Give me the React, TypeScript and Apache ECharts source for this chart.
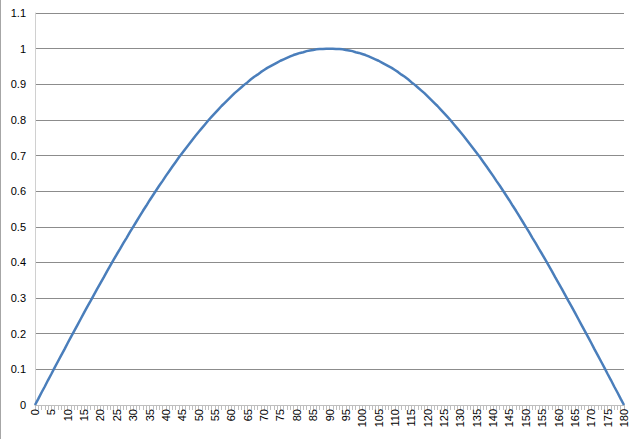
import React, { useEffect, useRef } from "react";
import * as echarts from "echarts";

const degrees: string[] = Array.from({ length: 181 }, (_, i) => String(i));

// degrees 0..90
const risingValues: number[] = [
  0.0, 0.017, 0.035, 0.052, 0.07, 0.087, 0.105, 0.122, 0.139, 0.156,
  0.174, 0.191, 0.208, 0.225, 0.242, 0.259, 0.276, 0.292, 0.309, 0.326,
  0.342, 0.358, 0.375, 0.391, 0.407, 0.423, 0.438, 0.454, 0.469, 0.485,
  0.5, 0.515, 0.53, 0.545, 0.559, 0.574, 0.588, 0.602, 0.616, 0.629,
  0.643, 0.656, 0.669, 0.682, 0.695, 0.707, 0.719, 0.731, 0.743, 0.755,
  0.766, 0.777, 0.788, 0.799, 0.809, 0.819, 0.829, 0.839, 0.848, 0.857,
  0.866, 0.875, 0.883, 0.891, 0.899, 0.906, 0.914, 0.921, 0.927, 0.934,
  0.94, 0.946, 0.951, 0.956, 0.961, 0.966, 0.97, 0.974, 0.978, 0.982,
  0.985, 0.988, 0.99, 0.993, 0.995, 0.996, 0.998, 0.999, 0.999, 1.0,
  1.0,
];
// degrees 91..180
const fallingValues: number[] = [
  1.0, 0.999, 0.999, 0.998, 0.996, 0.995, 0.993, 0.99, 0.988, 0.985,
  0.982, 0.978, 0.974, 0.97, 0.966, 0.961, 0.956, 0.951, 0.946, 0.94,
  0.934, 0.927, 0.921, 0.914, 0.906, 0.899, 0.891, 0.883, 0.875, 0.866,
  0.857, 0.848, 0.839, 0.829, 0.819, 0.809, 0.799, 0.788, 0.777, 0.766,
  0.755, 0.743, 0.731, 0.719, 0.707, 0.695, 0.682, 0.669, 0.656, 0.643,
  0.629, 0.616, 0.602, 0.588, 0.574, 0.559, 0.545, 0.53, 0.515, 0.5,
  0.485, 0.469, 0.454, 0.438, 0.423, 0.407, 0.391, 0.375, 0.358, 0.342,
  0.326, 0.309, 0.292, 0.276, 0.259, 0.242, 0.225, 0.208, 0.191, 0.174,
  0.156, 0.139, 0.122, 0.105, 0.087, 0.07, 0.052, 0.035, 0.017, 0.0,
];
const values: number[] = [...risingValues, ...fallingValues];

export default function App() {
  const ref = useRef<HTMLDivElement>(null);
  useEffect(() => {
    document.body.style.margin = "0";
    const chart = echarts.init(ref.current!, null, { renderer: "svg" });
    chart.setOption({
      animation: false,
      backgroundColor: "#ffffff",
      textStyle: { fontFamily: "Liberation Sans" },
      grid: { left: 35, right: 16, top: 13, bottom: 34, containLabel: false },
      graphic: [
        {
          type: "rect",
          shape: { x: 0, y: 0, width: 1, height: 439 },
          style: { fill: "#a6a6a6" },
        },
      ],
      xAxis: {
        type: "category",
        data: degrees,
        boundaryGap: false,
        axisLine: { lineStyle: { color: "#bfbfbf", width: 1 } },
        axisTick: { show: true, interval: 0, length: 5, lineStyle: { color: "#bfbfbf" } },
        axisLabel: {
          interval: 4,
          rotate: 90,
          color: "#000",
          fontSize: 11,
          margin: 4,
        },
        splitLine: { show: false },
      },
      yAxis: {
        type: "value",
        min: 0,
        max: 1.1,
        interval: 0.1,
        axisLine: { show: true, lineStyle: { color: "#d0d0d0" } },
        axisTick: { show: false },
        axisLabel: {
          color: "#000",
          fontSize: 11,
          margin: 9,
          formatter: (v: number) => String(Math.round(v * 10) / 10),
        },
        splitLine: { lineStyle: { color: "#8c8c8c", width: 1 } },
      },
      series: [
        {
          type: "line",
          data: values,
          showSymbol: false,
          smooth: false,
          lineStyle: { color: "#4a7ebb", width: 2.5 },
          itemStyle: { color: "#4a7ebb" },
        },
      ],
    });
    return () => chart.dispose();
  }, []);
  return <div ref={ref} style={{ width: 640, height: 439 }} />;
}
